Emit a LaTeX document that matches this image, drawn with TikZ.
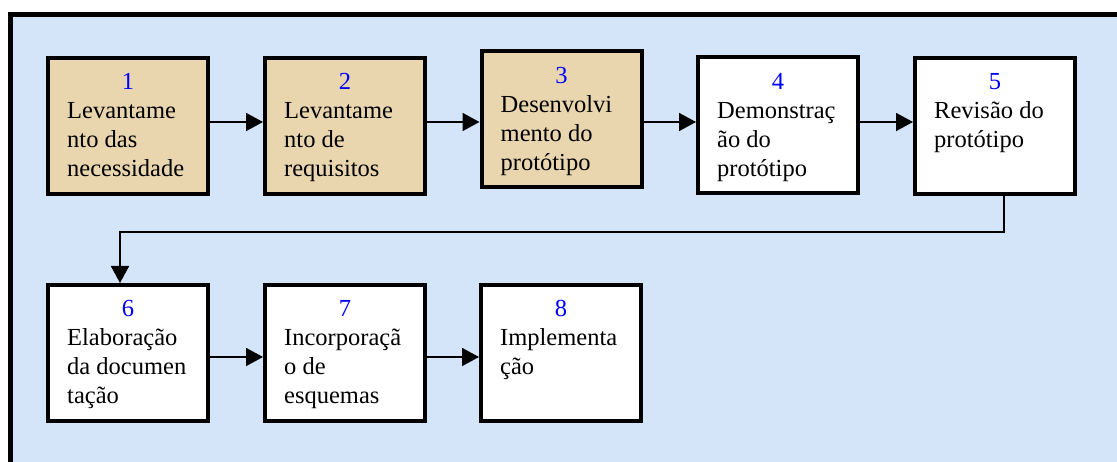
\documentclass[tikz,border=0pt]{standalone}
\usepackage{fontspec}
\setmainfont{Liberation Serif}
\usetikzlibrary{arrows.meta,calc}
\definecolor{bgblue}{RGB}{212,229,250}
\definecolor{parch}{RGB}{233,214,174}
\definecolor{numblue}{RGB}{0,0,255}
\tikzset{
  stepbox/.style={draw=black, line width=4pt, fill=white, rectangle,
    minimum width=160pt, minimum height=136pt, inner sep=0pt},
  tanbox/.style={stepbox, fill=parch},
  numlbl/.style={text=numblue, anchor=base, inner sep=0pt, font=\fontsize{24.5}{29}\selectfont},
  txtlbl/.style={anchor=base west, inner sep=0pt, font=\fontsize{24.5}{29}\selectfont},
  flow/.style={draw=black, line width=1.8pt, -{Triangle[length=17pt,width=18pt]}},
}
\newcommand{\steplines}[1]{\begin{tabular}[t]{@{}l@{}}#1\end{tabular}}
\begin{document}
\begin{tikzpicture}[x=1pt,y=-1pt]
\useasboundingbox (0,0) rectangle (1117,462);
\clip (0,0) rectangle (1117,462);
\fill[white] (0,0) rectangle (1117,462);
\draw[line width=5pt, fill=bgblue] (10.5,14.5) rectangle (1140,490);
% boxes
\node[tanbox] (b1) at (128,126) {};
\node[tanbox] (b2) at (345,126) {};
\node[tanbox] (b3) at (561.5,119.5) {};
\node[stepbox] (b4) at (778,125.5) {};
\node[stepbox] (b5) at (995,126) {};
\node[stepbox] (b6) at (128,353) {};
\node[stepbox] (b7) at (345,353) {};
\node[stepbox] (b8) at (561,353) {};
% numbers
\foreach \b/\n in {b1/1,b2/2,b3/3,b4/4,b5/5,b6/6,b7/7,b8/8}{
  \node[numlbl] (n\n) at ($(\b.north)+(0,34)$) {\n};
}
% texts
\node[txtlbl] (t1) at ($(b1.north west)+(21,63)$) {\steplines{Levantame\\nto das\\necessidade}};
\node[txtlbl] (t2) at ($(b2.north west)+(21,63)$) {\steplines{Levantame\\nto de\\requisitos}};
\node[txtlbl] (t3) at ($(b3.north west)+(21,63)$) {\steplines{Desenvolvi\\mento do\\protótipo}};
\node[txtlbl] (t4) at ($(b4.north west)+(21,63)$) {\steplines{Demonstraç\\ão do\\protótipo}};
\node[txtlbl] (t5) at ($(b5.north west)+(21,63)$) {\steplines{Revisão do\\protótipo}};
\node[txtlbl] (t6) at ($(b6.north west)+(21,63)$) {\steplines{Elaboração\\da documen\\tação}};
\node[txtlbl] (t7) at ($(b7.north west)+(21,63)$) {\steplines{Incorporaçã\\o de\\esquemas}};
\node[txtlbl] (t8) at ($(b8.north west)+(21,63)$) {\steplines{Implementa\\ção}};
% connectors
\coordinate (r1) at (0,122);
\coordinate (r2) at (0,357);
\draw[flow] (b1.east |- r1) -- (b2.west |- r1);
\draw[flow] (b2.east |- r1) -- (b3.west |- r1);
\draw[flow] (b3.east |- r1) -- (b4.west |- r1);
\draw[flow] (b4.east |- r1) -- (b5.west |- r1);
\draw[flow] (b6.east |- r2) -- (b7.west |- r2);
\draw[flow] (b7.east |- r2) -- (b8.west |- r2);
\coordinate (c1) at (1004,232);
\coordinate (c2) at (120,232);
\draw[flow] (b5.south -| c1) -- (c1) -- (c2) -- (c2 |- b6.north);
\end{tikzpicture}
\end{document}
